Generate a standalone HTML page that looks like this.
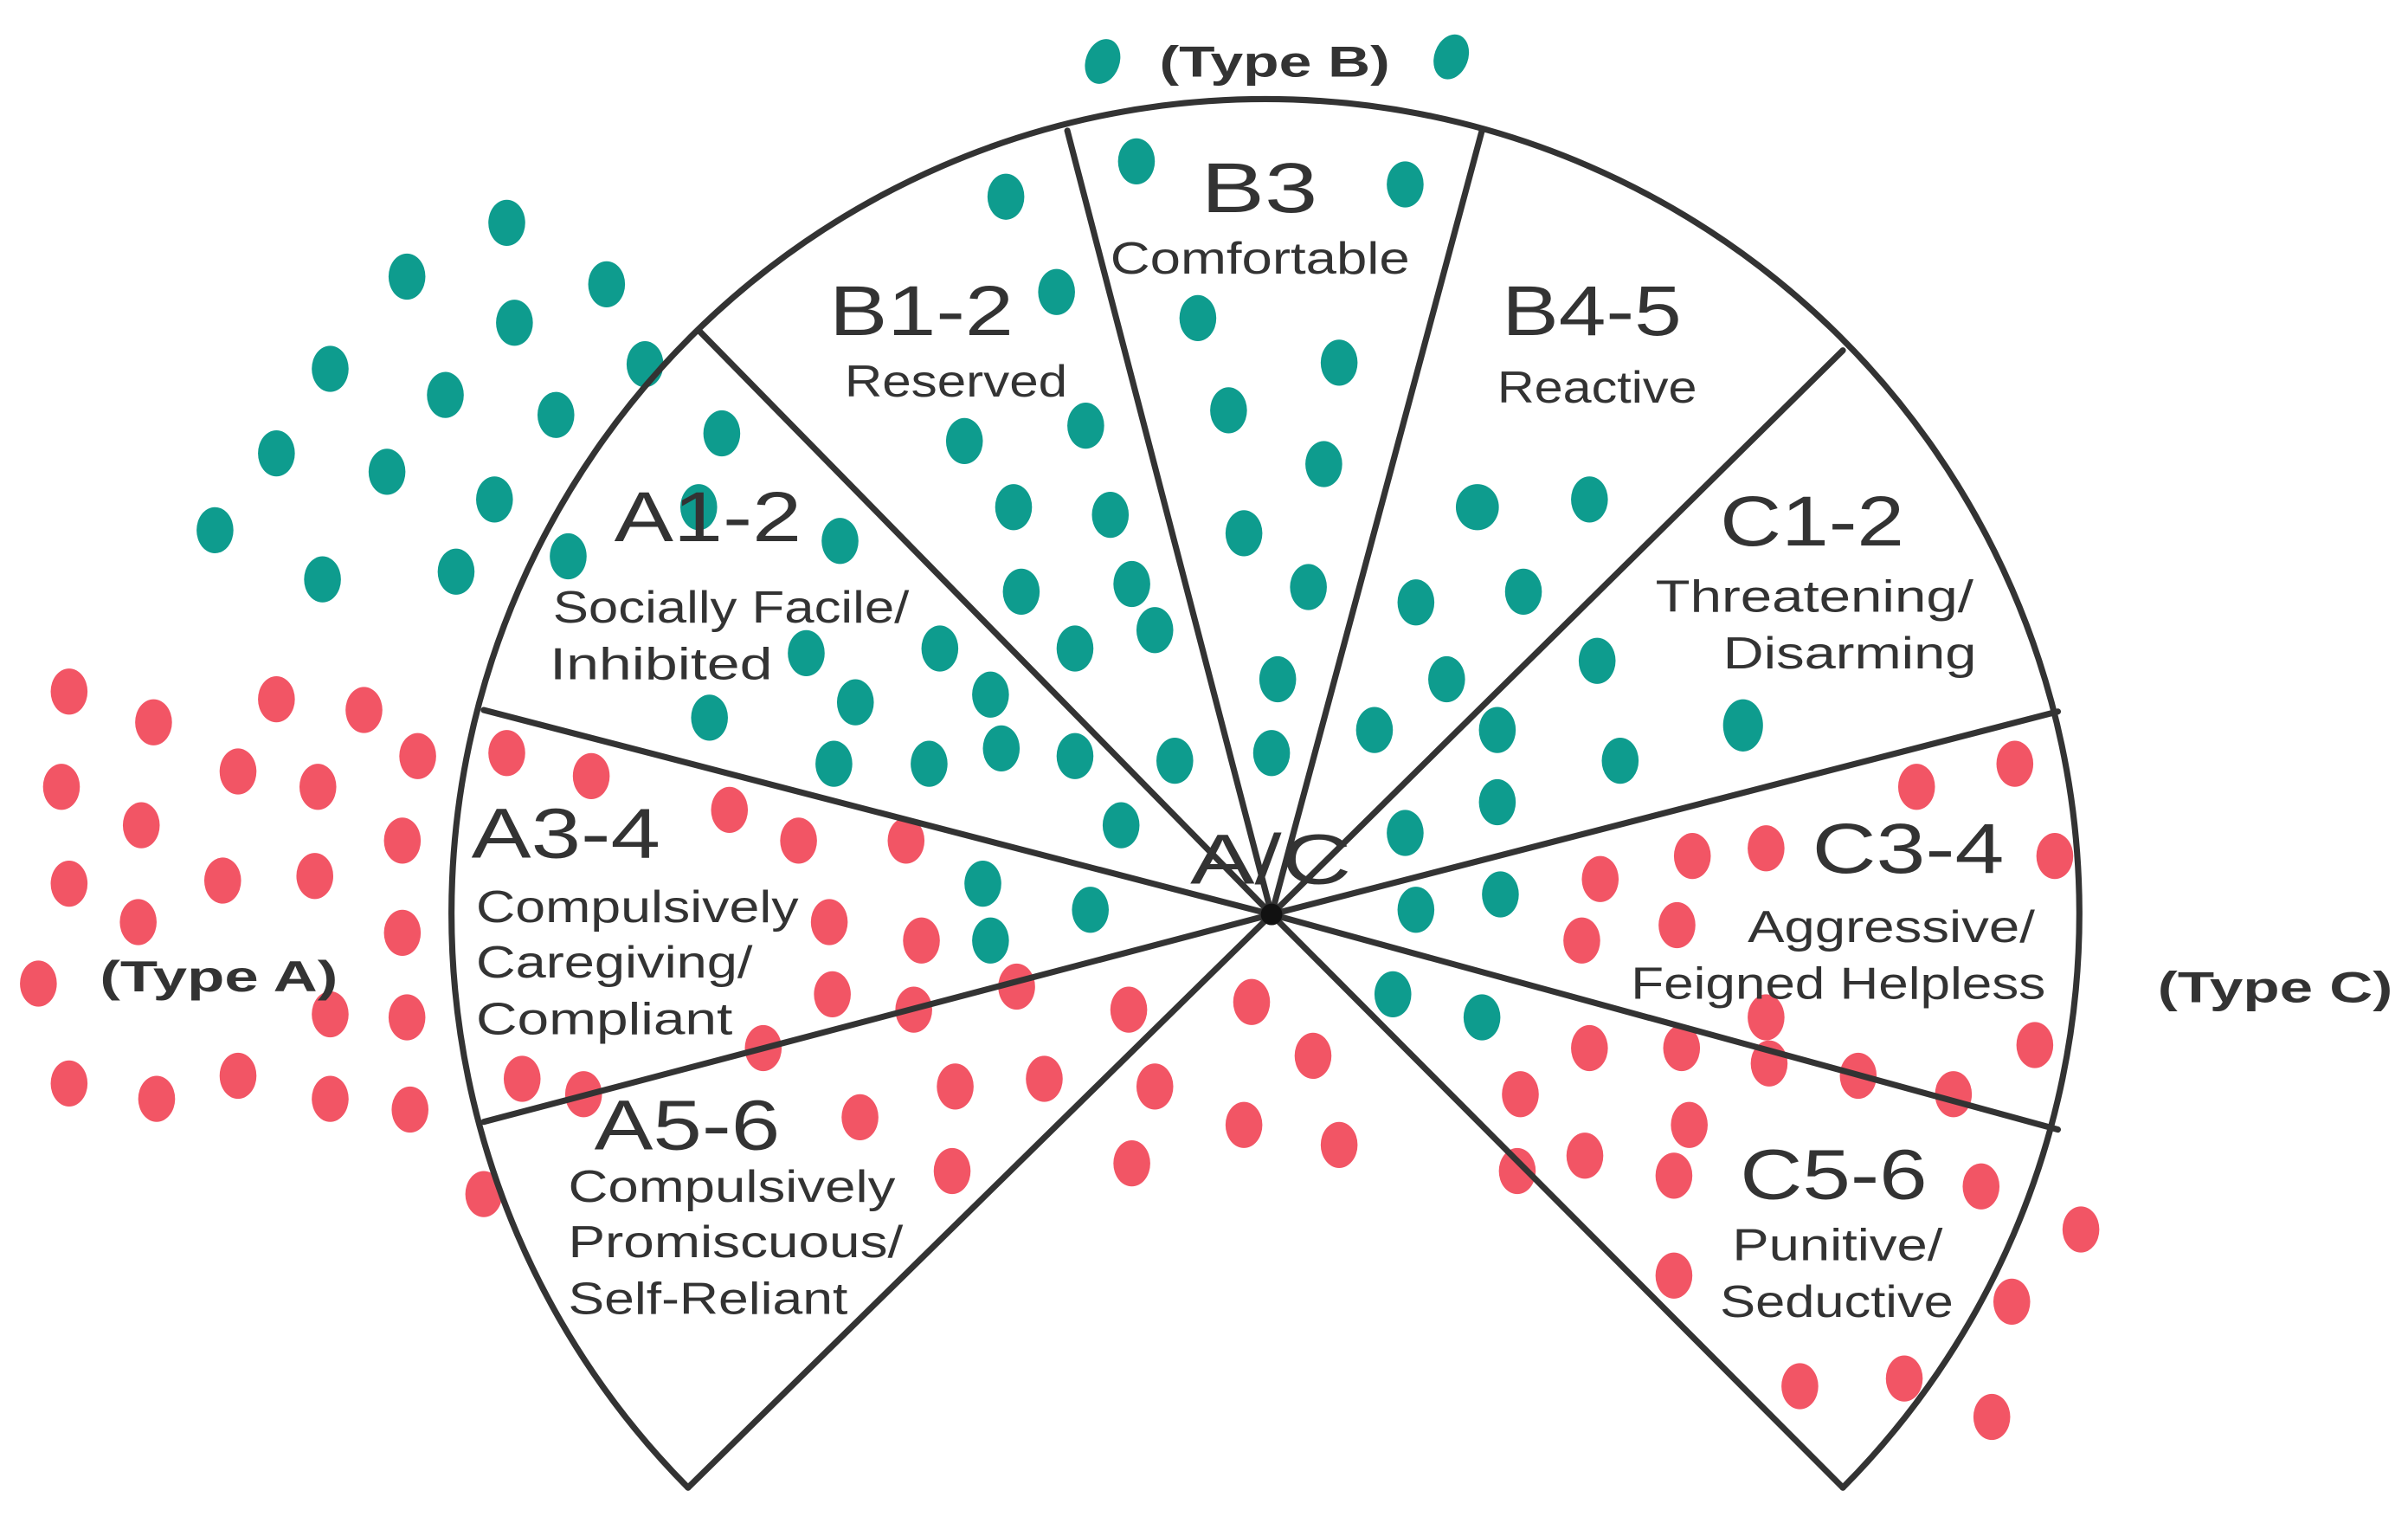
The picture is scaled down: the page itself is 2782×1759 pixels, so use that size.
<!DOCTYPE html>
<html><head><meta charset="utf-8"><style>
html,body{margin:0;padding:0;background:#fff;}
svg{display:block;}
text{font-family:"Liberation Sans",sans-serif;fill:#333;}
</style></head><body>
<svg width="2782" height="1759" viewBox="0 0 1568 991" preserveAspectRatio="none" xmlns="http://www.w3.org/2000/svg">
<rect width="1568" height="991" fill="#fff"/>
<g fill="#0e9c8e">
<ellipse cx="718" cy="40" rx="11" ry="15" transform="rotate(20 718 40)"/>
<ellipse cx="945" cy="37" rx="11" ry="15" transform="rotate(20 945 37)"/>
<ellipse cx="330" cy="145" rx="12" ry="15"/><ellipse cx="265" cy="180" rx="12" ry="15"/><ellipse cx="395" cy="185" rx="12" ry="15"/>
<ellipse cx="215" cy="240" rx="12" ry="15"/><ellipse cx="335" cy="210" rx="12" ry="15"/><ellipse cx="655" cy="128" rx="12" ry="15"/>
<ellipse cx="740" cy="105" rx="12" ry="15"/><ellipse cx="915" cy="120" rx="12" ry="15"/><ellipse cx="688" cy="190" rx="12" ry="15"/>
<ellipse cx="780" cy="207" rx="12" ry="15"/><ellipse cx="290" cy="257" rx="12" ry="15"/><ellipse cx="362" cy="270" rx="12" ry="15"/>
<ellipse cx="420" cy="237" rx="12" ry="15"/><ellipse cx="180" cy="295" rx="12" ry="15"/><ellipse cx="470" cy="282" rx="12" ry="15"/>
<ellipse cx="628" cy="287" rx="12" ry="15"/><ellipse cx="707" cy="277" rx="12" ry="15"/><ellipse cx="800" cy="267" rx="12" ry="15"/>
<ellipse cx="872" cy="236" rx="12" ry="15"/><ellipse cx="140" cy="345" rx="12" ry="15"/><ellipse cx="252" cy="307" rx="12" ry="15"/>
<ellipse cx="322" cy="325" rx="12" ry="15"/><ellipse cx="547" cy="352" rx="12" ry="15"/><ellipse cx="660" cy="330" rx="12" ry="15"/>
<ellipse cx="723" cy="335" rx="12" ry="15"/><ellipse cx="862" cy="302" rx="12" ry="15"/><ellipse cx="962" cy="330" rx="14" ry="15"/>
<ellipse cx="1035" cy="325" rx="12" ry="15"/><ellipse cx="210" cy="377" rx="12" ry="15"/><ellipse cx="297" cy="372" rx="12" ry="15"/>
<ellipse cx="370" cy="362" rx="12" ry="15"/><ellipse cx="455" cy="330" rx="12" ry="15"/><ellipse cx="525" cy="425" rx="12" ry="15"/>
<ellipse cx="612" cy="422" rx="12" ry="15"/><ellipse cx="665" cy="385" rx="12" ry="15"/><ellipse cx="737" cy="380" rx="12" ry="15"/>
<ellipse cx="852" cy="382" rx="12" ry="15"/><ellipse cx="922" cy="392" rx="12" ry="15"/><ellipse cx="992" cy="385" rx="12" ry="15"/>
<ellipse cx="462" cy="467" rx="12" ry="15"/><ellipse cx="557" cy="457" rx="12" ry="15"/><ellipse cx="645" cy="452" rx="12" ry="15"/>
<ellipse cx="700" cy="422" rx="12" ry="15"/><ellipse cx="752" cy="410" rx="12" ry="15"/><ellipse cx="810" cy="347" rx="12" ry="15"/>
<ellipse cx="832" cy="442" rx="12" ry="15"/><ellipse cx="942" cy="442" rx="12" ry="15"/><ellipse cx="1040" cy="430" rx="12" ry="15"/>
<ellipse cx="1135" cy="472" rx="13" ry="17"/><ellipse cx="543" cy="497" rx="12" ry="15"/><ellipse cx="605" cy="497" rx="12" ry="15"/>
<ellipse cx="652" cy="487" rx="12" ry="15"/><ellipse cx="700" cy="492" rx="12" ry="15"/><ellipse cx="765" cy="495" rx="12" ry="15"/>
<ellipse cx="828" cy="490" rx="12" ry="15"/><ellipse cx="895" cy="475" rx="12" ry="15"/><ellipse cx="975" cy="475" rx="12" ry="15"/>
<ellipse cx="1055" cy="495" rx="12" ry="15"/><ellipse cx="730" cy="537" rx="12" ry="15"/><ellipse cx="915" cy="542" rx="12" ry="15"/>
<ellipse cx="975" cy="522" rx="12" ry="15"/><ellipse cx="640" cy="575" rx="12" ry="15"/><ellipse cx="710" cy="592" rx="12" ry="15"/>
<ellipse cx="645" cy="612" rx="12" ry="15"/><ellipse cx="922" cy="592" rx="12" ry="15"/><ellipse cx="977" cy="582" rx="12" ry="15"/>
<ellipse cx="907" cy="647" rx="12" ry="15"/><ellipse cx="965" cy="662" rx="12" ry="15"/>
</g>
<g fill="#f25565">
<ellipse cx="45" cy="450" rx="12" ry="15"/><ellipse cx="100" cy="470" rx="12" ry="15"/><ellipse cx="180" cy="455" rx="12" ry="15"/>
<ellipse cx="237" cy="462" rx="12" ry="15"/><ellipse cx="40" cy="512" rx="12" ry="15"/><ellipse cx="92" cy="537" rx="12" ry="15"/>
<ellipse cx="155" cy="502" rx="12" ry="15"/><ellipse cx="207" cy="512" rx="12" ry="15"/><ellipse cx="272" cy="492" rx="12" ry="15"/>
<ellipse cx="330" cy="490" rx="12" ry="15"/><ellipse cx="385" cy="505" rx="12" ry="15"/><ellipse cx="45" cy="575" rx="12" ry="15"/>
<ellipse cx="90" cy="600" rx="12" ry="15"/><ellipse cx="145" cy="573" rx="12" ry="15"/><ellipse cx="205" cy="570" rx="12" ry="15"/>
<ellipse cx="262" cy="547" rx="12" ry="15"/><ellipse cx="475" cy="527" rx="12" ry="15"/><ellipse cx="520" cy="547" rx="12" ry="15"/>
<ellipse cx="590" cy="547" rx="12" ry="15"/><ellipse cx="262" cy="607" rx="12" ry="15"/><ellipse cx="25" cy="640" rx="12" ry="15"/>
<ellipse cx="215" cy="660" rx="12" ry="15"/><ellipse cx="265" cy="662" rx="12" ry="15"/><ellipse cx="540" cy="600" rx="12" ry="15"/>
<ellipse cx="600" cy="612" rx="12" ry="15"/><ellipse cx="45" cy="705" rx="12" ry="15"/><ellipse cx="102" cy="715" rx="12" ry="15"/>
<ellipse cx="155" cy="700" rx="12" ry="15"/><ellipse cx="215" cy="715" rx="12" ry="15"/><ellipse cx="267" cy="722" rx="12" ry="15"/>
<ellipse cx="340" cy="702" rx="12" ry="15"/><ellipse cx="380" cy="712" rx="12" ry="15"/><ellipse cx="497" cy="682" rx="12" ry="15"/>
<ellipse cx="542" cy="647" rx="12" ry="15"/><ellipse cx="595" cy="657" rx="12" ry="15"/><ellipse cx="662" cy="642" rx="12" ry="15"/>
<ellipse cx="735" cy="657" rx="12" ry="15"/><ellipse cx="815" cy="652" rx="12" ry="15"/><ellipse cx="855" cy="687" rx="12" ry="15"/>
<ellipse cx="560" cy="727" rx="12" ry="15"/><ellipse cx="622" cy="707" rx="12" ry="15"/><ellipse cx="680" cy="702" rx="12" ry="15"/>
<ellipse cx="752" cy="707" rx="12" ry="15"/><ellipse cx="810" cy="732" rx="12" ry="15"/><ellipse cx="872" cy="745" rx="12" ry="15"/>
<ellipse cx="620" cy="762" rx="12" ry="15"/><ellipse cx="737" cy="757" rx="12" ry="15"/><ellipse cx="315" cy="777" rx="12" ry="15"/>
<ellipse cx="1248" cy="512" rx="12" ry="15"/><ellipse cx="1312" cy="497" rx="12" ry="15"/><ellipse cx="1042" cy="572" rx="12" ry="15"/>
<ellipse cx="1102" cy="557" rx="12" ry="15"/><ellipse cx="1150" cy="552" rx="12" ry="15"/><ellipse cx="1338" cy="557" rx="12" ry="15"/>
<ellipse cx="1030" cy="612" rx="12" ry="15"/><ellipse cx="1092" cy="602" rx="12" ry="15"/><ellipse cx="1150" cy="662" rx="12" ry="15"/>
<ellipse cx="1035" cy="682" rx="12" ry="15"/><ellipse cx="1095" cy="682" rx="12" ry="15"/><ellipse cx="1152" cy="692" rx="12" ry="15"/>
<ellipse cx="1210" cy="700" rx="12" ry="15"/><ellipse cx="1272" cy="712" rx="12" ry="15"/><ellipse cx="1325" cy="680" rx="12" ry="15"/>
<ellipse cx="990" cy="712" rx="12" ry="15"/><ellipse cx="988" cy="762" rx="12" ry="15"/><ellipse cx="1032" cy="752" rx="12" ry="15"/>
<ellipse cx="1100" cy="732" rx="12" ry="15"/><ellipse cx="1090" cy="765" rx="12" ry="15"/><ellipse cx="1290" cy="772" rx="12" ry="15"/>
<ellipse cx="1355" cy="800" rx="12" ry="15"/><ellipse cx="1090" cy="830" rx="12" ry="15"/><ellipse cx="1310" cy="847" rx="12" ry="15"/>
<ellipse cx="1172" cy="902" rx="12" ry="15"/><ellipse cx="1240" cy="897" rx="12" ry="15"/><ellipse cx="1297" cy="922" rx="12" ry="15"/>
</g>
<g stroke="#333" stroke-width="4" fill="none" stroke-linecap="round">
<path d="M448 968 A530 530 0 1 1 1200 968"/>
<line x1="828" y1="595" x2="448" y2="968"/><line x1="828" y1="595" x2="1200" y2="968"/>
<line x1="828" y1="595" x2="455" y2="215"/><line x1="828" y1="595" x2="695" y2="85"/>
<line x1="828" y1="595" x2="965" y2="85"/><line x1="828" y1="595" x2="1200" y2="228"/>
<line x1="828" y1="595" x2="1340" y2="463"/><line x1="828" y1="595" x2="1340" y2="735"/>
<line x1="828" y1="595" x2="315" y2="462"/><line x1="828" y1="595" x2="315" y2="730"/>
</g>
<circle cx="828" cy="595" r="7" fill="#111"/>
<g font-size="46">
<text x="782" y="138" textLength="76" lengthAdjust="spacingAndGlyphs">B3</text>
<text x="540" y="218" textLength="120" lengthAdjust="spacingAndGlyphs">B1-2</text>
<text x="978" y="218" textLength="117" lengthAdjust="spacingAndGlyphs">B4-5</text>
<text x="400" y="352" textLength="122" lengthAdjust="spacingAndGlyphs">A1-2</text>
<text x="1120" y="355" textLength="120" lengthAdjust="spacingAndGlyphs">C1-2</text>
<text x="307" y="558" textLength="123" lengthAdjust="spacingAndGlyphs">A3-4</text>
<text x="1180" y="568" textLength="125" lengthAdjust="spacingAndGlyphs">C3-4</text>
<text x="387" y="748" textLength="121" lengthAdjust="spacingAndGlyphs">A5-6</text>
<text x="1133" y="780" textLength="122" lengthAdjust="spacingAndGlyphs">C5-6</text>
<text x="775" y="575" textLength="105" lengthAdjust="spacingAndGlyphs">A/C</text>
</g>
<g font-size="29">
<text x="723" y="178" textLength="195" lengthAdjust="spacingAndGlyphs">Comfortable</text>
<text x="550" y="258" textLength="145" lengthAdjust="spacingAndGlyphs">Reserved</text>
<text x="975" y="262" textLength="130" lengthAdjust="spacingAndGlyphs">Reactive</text>
<text x="360" y="405" textLength="232" lengthAdjust="spacingAndGlyphs">Socially Facile/</text>
<text x="358" y="442" textLength="145" lengthAdjust="spacingAndGlyphs">Inhibited</text>
<text x="1078" y="398" textLength="207" lengthAdjust="spacingAndGlyphs">Threatening/</text>
<text x="1122" y="435" textLength="165" lengthAdjust="spacingAndGlyphs">Disarming</text>
<text x="310" y="600" textLength="210" lengthAdjust="spacingAndGlyphs">Compulsively</text>
<text x="310" y="636" textLength="180" lengthAdjust="spacingAndGlyphs">Caregiving/</text>
<text x="310" y="673" textLength="167" lengthAdjust="spacingAndGlyphs">Compliant</text>
<text x="1138" y="613" textLength="187" lengthAdjust="spacingAndGlyphs">Aggressive/</text>
<text x="1062" y="650" textLength="270" lengthAdjust="spacingAndGlyphs">Feigned Helpless</text>
<text x="370" y="782" textLength="213" lengthAdjust="spacingAndGlyphs">Compulsively</text>
<text x="370" y="818" textLength="218" lengthAdjust="spacingAndGlyphs">Promiscuous/</text>
<text x="370" y="855" textLength="182" lengthAdjust="spacingAndGlyphs">Self-Reliant</text>
<text x="1128" y="820" textLength="137" lengthAdjust="spacingAndGlyphs">Punitive/</text>
<text x="1120" y="857" textLength="152" lengthAdjust="spacingAndGlyphs">Seductive</text>
</g>
<g font-size="28" font-weight="bold">
<text x="755" y="50" textLength="150" lengthAdjust="spacingAndGlyphs">(Type B)</text>
<text x="65" y="645" textLength="155" lengthAdjust="spacingAndGlyphs">(Type A)</text>
<text x="1405" y="652" textLength="153" lengthAdjust="spacingAndGlyphs">(Type C)</text>
</g>
</svg>
</body></html>
